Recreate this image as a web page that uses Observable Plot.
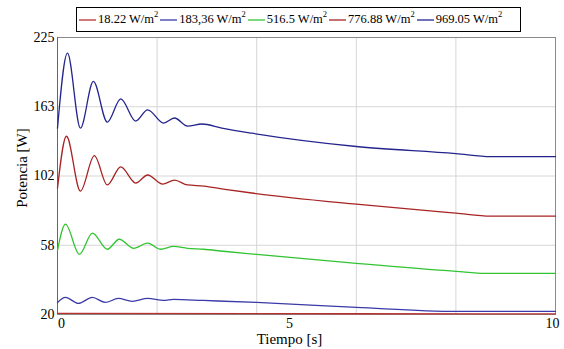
<!DOCTYPE html>
<html><head><meta charset="utf-8">
<script src="https://cdn.jsdelivr.net/npm/d3@7"></script>
<script src="https://cdn.jsdelivr.net/npm/@observablehq/plot@0.6"></script>
<style>
body{margin:0;background:#fff;font-family:"Liberation Serif","DejaVu Serif",serif;}
#wrap{width:564px;height:349px;position:relative;overflow:hidden;}
#legend{height:30px;position:relative;z-index:2;}
#legend .box{position:absolute;left:76px;top:7px;width:445px;height:25px;border:1px solid #000;background:#fff;display:flex;align-items:center;font-size:12.5px;padding-left:2px;box-sizing:border-box;white-space:nowrap;color:#000;}
#legend .item{display:flex;align-items:center;margin-right:2px;}
#legend svg{display:block;margin-right:2px;}
#legend sup{font-size:8.5px;vertical-align:6px;line-height:0;}
#chart svg{display:block;}
</style>
</head><body>
<div id="wrap">
<div id="legend"><div class="box" id="lbox"></div></div>
<div id="chart"></div>
</div>
<script>
// Data
const seriesNames = ["18.22 W/m2", "183,36 W/m2", "516.5 W/m2", "776.88 W/m2", "969.05 W/m2"];
const seriesColors = ["#b83030", "#3a3aa8", "#33c433", "#a82424", "#24248e"];

const tRed18 = [0, 4, 8.7, 10];
const pRed18 = [20.6, 20.5, 20.3, 20.3];

const tBlue183 = [0, 0.16, 0.42, 0.70, 0.96, 1.22, 1.5, 1.81, 2.13, 2.33, 2.93, 4.0, 6.0, 8.0, 8.7, 10];
const pBlue183 = [26.6, 29.4, 26.1, 29.4, 26.6, 28.8, 27.2, 28.8, 27.7, 28.3, 27.7, 26.6, 23.9, 21.7, 21.7, 21.7];

const tGreen517 = [0, 0.16, 0.44, 0.70, 1.0, 1.24, 1.53, 1.81, 2.07, 2.33, 2.61, 2.93, 3.33, 4.0, 6.0, 8.0, 8.6, 10];
const pGreen517 = [55.2, 71.4, 53.0, 65.7, 55.8, 61.8, 56.3, 59.3, 55.8, 57.4, 56.3, 55.8, 54.7, 53.0, 48.1, 43.7, 42.6, 42.6];

const tRed777 = [0, 0.18, 0.46, 0.74, 1.0, 1.27, 1.57, 1.81, 2.11, 2.35, 2.61, 2.94, 3.33, 3.9, 6.0, 8.0, 8.7, 10];
const pRed777 = [94.3, 137.0, 92.4, 119.9, 96.3, 110.1, 97.5, 102.9, 96.9, 99.4, 96.3, 95.6, 93.7, 91.2, 84.1, 78.4, 76.5, 76.5];

const tBlue969 = [0, 0.2, 0.46, 0.72, 1.0, 1.27, 1.57, 1.81, 2.13, 2.35, 2.61, 2.9, 3.3, 3.9, 6.0, 8.0, 8.7, 10];
const pBlue969 = [144.2, 211.0, 144.2, 185.7, 149.5, 170.0, 150.4, 160.3, 148.6, 153.1, 146.0, 147.8, 144.2, 139.7, 128.0, 121.7, 119.0, 119.0];

const yTicks = [20, 58, 102, 163, 225];
const xGrid = [0, 2, 4, 6, 8, 10];
const xTickLabels = [0, 5, 10];

const seriesT = [tRed18, tBlue183, tGreen517, tRed777, tBlue969];
const seriesP = [pRed18, pBlue183, pGreen517, pRed777, pBlue969];

// Legend
const NS = "http://www.w3.org/2000/svg";
const lbox = document.getElementById("lbox");
seriesNames.forEach((n, i) => {
  const it = document.createElement("span"); it.className = "item";
  const sw = document.createElementNS(NS, "svg");
  sw.setAttribute("width", "17"); sw.setAttribute("height", "4");
  const ln = document.createElementNS(NS, "line");
  ln.setAttribute("x1", "0"); ln.setAttribute("x2", "17"); ln.setAttribute("y1", "2"); ln.setAttribute("y2", "2");
  ln.setAttribute("stroke", seriesColors[i]); ln.setAttribute("stroke-width", "1.3");
  sw.appendChild(ln);
  const tx = document.createElement("span");
  tx.innerHTML = n.replace(/2$/, "<sup>2</sup>");
  it.appendChild(sw); it.appendChild(tx); lbox.appendChild(it);
});

// Chart: the y axis has evenly spaced ticks with uneven values -> piecewise-linear scale transform
const W = 564, H = 319, mT = 7, mB = 35, mL = 57, mR = 9;
const piece = d3.scaleLinear().domain(yTicks).range(yTicks.map((_, i) => i));

const lineMarks = seriesT.map((ts, k) =>
  Plot.line(ts.map((t, i) => ({t, p: seriesP[k][i]})), {x: "t", y: "p", stroke: seriesColors[k], strokeWidth: 1.3, curve: "monotone-x"})
);
const FF = "Liberation Serif, DejaVu Serif, serif";
const xLabelShift = [4, -17, -3]; // label offsets as placed in the reference

const chart = Plot.plot({
  width: W, height: H,
  marginTop: mT, marginBottom: mB, marginLeft: mL, marginRight: mR,
  style: {fontFamily: FF, fontSize: "14px", color: "#000", background: "transparent", overflow: "visible"},
  x: {domain: [0, 10]},
  y: {type: "linear", transform: piece, domain: [0, yTicks.length - 1]},
  marks: [
    Plot.gridX(xGrid, {stroke: "#d6d6d6", strokeOpacity: 1}),
    Plot.gridY(yTicks, {stroke: "#d6d6d6", strokeOpacity: 1}),
    Plot.frame({stroke: "#8a8a8a"}),
    Plot.ruleX([0], {stroke: "#666"}),
    ...xTickLabels.map((v, i) => Plot.axisX([v], {tickSize: 0, tickPadding: 4, label: null, tickFormat: d => String(d), fontSize: 14, fontFamily: FF, dx: xLabelShift[i]})),
    Plot.axisY(yTicks, {tickSize: 0, tickPadding: 3, label: null, tickFormat: d => String(d), fontSize: 14, fontFamily: FF}),
    ...lineMarks,
    Plot.text(["Potencia [W]"], {text: d => d, frameAnchor: "left", textAnchor: "middle", lineAnchor: "middle", rotate: -90, dx: -35, dy: -8, fontSize: 15, fontFamily: FF}),
    Plot.text(["Tiempo [s]"], {text: d => d, frameAnchor: "bottom", textAnchor: "middle", lineAnchor: "middle", dx: -17, dy: 25, fontSize: 15, fontFamily: FF})
  ]
});
document.getElementById("chart").appendChild(chart);
</script>
</body></html>
